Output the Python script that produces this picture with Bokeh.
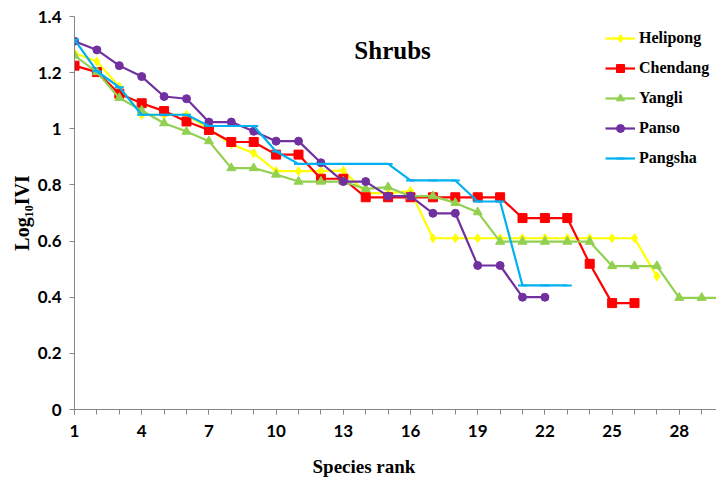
from bokeh.plotting import figure
from bokeh.models import Range1d, FixedTicker, Legend, LegendItem, Label, Title
from bokeh.embed import file_html
from bokeh.resources import INLINE

# ---- data ----
helipong = [1.27, 1.24, 1.15, 1.05, 1.05, 1.05, 1.00, 0.945, 0.913, 0.849, 0.849, 0.849,
            0.851, 0.771, 0.771, 0.778, 0.61, 0.61, 0.61, 0.61, 0.61, 0.61, 0.61, 0.61,
            0.61, 0.61, 0.474]
chendang = [1.225, 1.202, 1.125, 1.091, 1.063, 1.026, 0.996, 0.953, 0.953, 0.908, 0.908,
            0.822, 0.822, 0.756, 0.756, 0.756, 0.756, 0.756, 0.756, 0.756, 0.682, 0.682,
            0.682, 0.519, 0.379, 0.379]
yangli = [1.261, 1.202, 1.110, 1.065, 1.020, 0.990, 0.956, 0.860, 0.860, 0.837, 0.812,
          0.812, 0.812, 0.786, 0.792, 0.760, 0.760, 0.736, 0.703, 0.598, 0.598, 0.598,
          0.598, 0.598, 0.511, 0.511, 0.511, 0.398, 0.398, 0.398]
panso = [1.312, 1.281, 1.225, 1.186, 1.115, 1.107, 1.024, 1.024, 0.991, 0.956, 0.956,
         0.879, 0.812, 0.812, 0.760, 0.760, 0.699, 0.699, 0.513, 0.513, 0.400, 0.400]
pangsha = [1.318, 1.205, 1.148, 1.050, 1.050, 1.050, 1.010, 1.010, 1.010, 0.919, 0.875,
           0.875, 0.875, 0.875, 0.875, 0.816, 0.816, 0.816, 0.741, 0.741, 0.442, 0.442,
           0.442]

series_names = ["Helipong", "Chendang", "Yangli", "Panso", "Pangsha"]
series_values = [helipong, chendang, yangli, panso, pangsha]
colors = ["#FFFF00", "#FF0000", "#92D050", "#7030A0", "#00B0F0"]
markers = ["diamond", "square", "triangle", "circle", "dash"]
marker_sizes = [9, 9, 9, 8, 9]

x_tick_labels = [1, 4, 7, 10, 13, 16, 19, 22, 25, 28]
y_ticks = [0, 0.2, 0.4, 0.6, 0.8, 1.0, 1.2, 1.4]

serif = "Liberation Serif"
sans = "Lato"

p = figure(width=716, height=493, output_backend="svg", toolbar_location=None,
           x_range=Range1d(1, 29.66), y_range=Range1d(0, 1.4),
           min_border_left=74, min_border_right=0, min_border_top=16,
           min_border_bottom=84)
p.outline_line_color = None
p.xgrid.grid_line_color = None
p.ygrid.grid_line_color = None
p.background_fill_color = "white"
p.border_fill_color = "white"

items = []
for name, vals, col, mk, ms in zip(series_names, series_values, colors, markers, marker_sizes):
    xs = list(range(1, len(vals) + 1))
    ln = p.line(xs, vals, line_color=col, line_width=2.2)
    sc = p.scatter(xs, vals, marker=mk, size=ms, fill_color=col, line_color=col,
                   line_width=2 if mk == "dash" else 1)
    items.append(LegendItem(label=name, renderers=[ln, sc]))

legend = Legend(items=items, location=(531, 241), orientation="vertical",
                label_text_font=serif, label_text_font_style="bold",
                label_text_font_size="16px", label_text_color="black",
                glyph_width=30, glyph_height=20, label_height=20, label_standoff=4,
                spacing=10, padding=2, margin=0, border_line_color=None,
                background_fill_alpha=0)
p.add_layout(legend)

# axes
p.xaxis.ticker = FixedTicker(ticks=x_tick_labels, minor_ticks=list(range(1, 31)))
p.yaxis.ticker = FixedTicker(ticks=y_ticks, minor_ticks=[])
p.yaxis.major_label_overrides = {0: "0", 0.2: "0.2", 0.4: "0.4", 0.6: "0.6",
                                 0.8: "0.8", 1.0: "1", 1.2: "1.2", 1.4: "1.4"}
for ax in (p.xaxis, p.yaxis):
    ax.axis_line_color = "#868686"
    ax.axis_line_width = 1
    ax.major_tick_line_color = "#868686"
    ax.minor_tick_line_color = "#868686"
    ax.major_tick_out = 5
    ax.major_tick_in = 0
    ax.minor_tick_out = 5
    ax.minor_tick_in = 0
    ax.major_label_text_font = sans
    ax.major_label_text_font_style = "bold"
    ax.major_label_text_font_size = "17px"
    ax.major_label_text_color = "black"
    ax.axis_label_text_font = serif
    ax.axis_label_text_font_style = "bold"
    ax.axis_label_text_color = "black"

p.xaxis.major_label_standoff = 10

p.yaxis.major_label_standoff = 8
p.yaxis.axis_label = "Log₁₀IVI"
p.yaxis.axis_label_text_font_size = "20px"
p.yaxis.axis_label_standoff = 2

xlabel = Title(text="Species rank", align="left", offset=238, standoff=28,
               text_font=serif, text_font_style="bold", text_font_size="19px",
               text_color="black")
p.add_layout(xlabel, "below")

title = Label(x=15.2, y=1.28, text="Shrubs", text_font=serif, text_font_style="bold",
              text_font_size="25px", text_align="center", text_baseline="middle",
              text_color="black")
p.add_layout(title)

open("out.html", "w").write(file_html(p, INLINE))
